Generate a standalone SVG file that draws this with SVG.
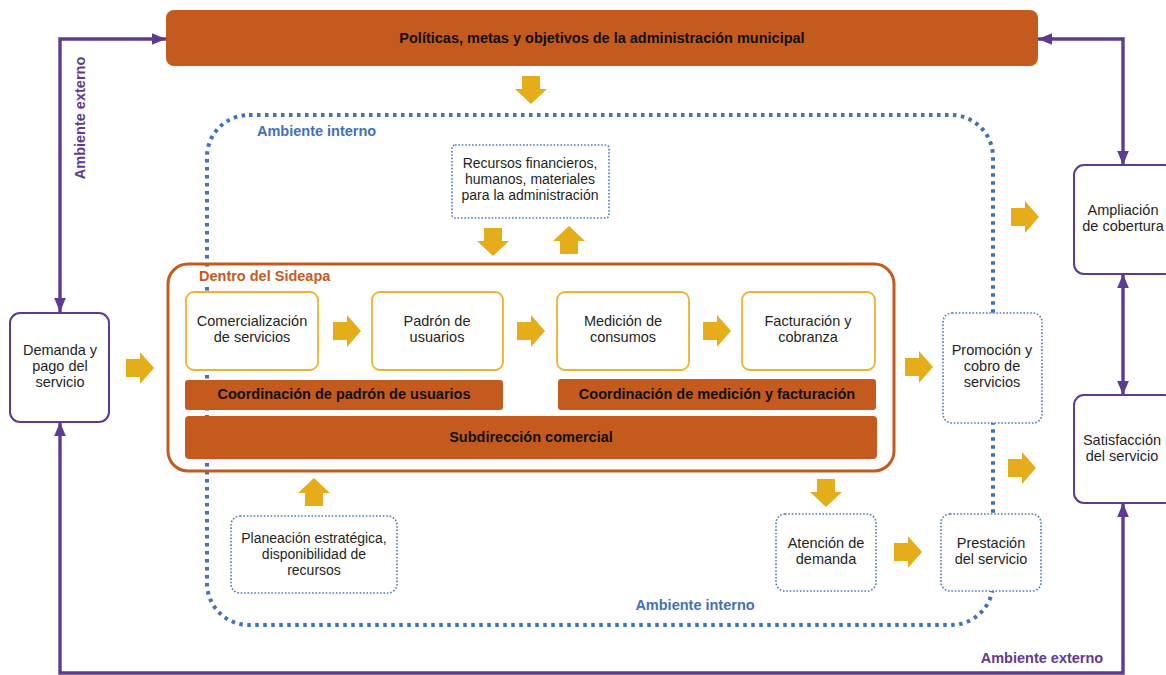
<svg xmlns="http://www.w3.org/2000/svg" xmlns:xlink="http://www.w3.org/1999/xlink" width="1166" height="675" viewBox="0 0 1166 675">
  <style>
    .txt { font-family: "Liberation Sans", Arial, sans-serif; font-size: 14.5px; fill: #1f1f1f; text-anchor: middle; }
    .sm { font-size: 14px; }
    .bold { font-family: "Liberation Sans", Arial, sans-serif; font-size: 14.5px; font-weight: bold; fill: #111; text-anchor: middle; }
    .lbl-blue { font-family: "Liberation Sans", Arial, sans-serif; font-size: 14.5px; font-weight: bold; fill: #3F72B6; }
    .lbl-purple { font-family: "Liberation Sans", Arial, sans-serif; font-size: 14.5px; font-weight: bold; fill: #5F3B8F; }
    .lbl-orange { font-family: "Liberation Sans", Arial, sans-serif; font-size: 14.5px; font-weight: bold; fill: #C55A1F; }
    .bar { fill: #C55A1F; }
    .step { fill: #fff; stroke: #EDB42E; stroke-width: 1.8; }
    .ext { fill: #fff; stroke: #5F3B8F; stroke-width: 2; }
    .dot { fill: #fff; stroke: #4A7CC0; stroke-width: 1.6; stroke-dasharray: 1.6 1.8; }
    .blk { fill: #E6AD1B; }
    .purple { fill: none; stroke: #5F3B8F; stroke-width: 3.4; }
  </style>
  <defs>
    <marker id="ph" viewBox="0 0 12 10" markerUnits="userSpaceOnUse" markerWidth="14" markerHeight="12" refX="12" refY="5" orient="auto-start-reverse">
      <path d="M0,0 L12,5 L0,10 Z" fill="#5F3B8F"/>
    </marker>
    <path id="aR" d="M0,-9 H14 V-16 L28,0 L14,16 V9 H0 Z"/>
    <path id="aD" d="M-9,0 V13 H-16 L0,28 L16,13 H9 V0 Z"/>
    <path id="aU" d="M-9,28 V15 H-16 L0,0 L16,15 H9 V28 Z"/>
  </defs>

  <rect width="1166" height="675" fill="#fff"/>

  <!-- internal environment boundary -->
  <g id="ambiente-interno">
    <rect x="207" y="115" width="786" height="510" rx="42" fill="none" stroke="#3F72B6" stroke-width="4" stroke-dasharray="3.5 4.5"/>
    <text class="lbl-blue" x="257" y="136">Ambiente interno</text>
    <text class="lbl-blue" x="695" y="610" text-anchor="middle">Ambiente interno</text>
  </g>

  <!-- external environment connectors -->
  <g id="connectors">
    <path class="purple" d="M60,312 V39 H166" marker-start="url(#ph)" marker-end="url(#ph)"/>
    <path class="purple" d="M1038,39 H1123 V165" marker-start="url(#ph)" marker-end="url(#ph)"/>
    <path class="purple" d="M1123,274 V395" marker-start="url(#ph)" marker-end="url(#ph)"/>
    <path class="purple" d="M60,422 V673 H1123 V503" marker-start="url(#ph)" marker-end="url(#ph)"/>
    <text class="lbl-purple" transform="translate(85,118) rotate(-90)" text-anchor="middle">Ambiente externo</text>
    <text class="lbl-purple" x="1042" y="663" text-anchor="middle">Ambiente externo</text>

    <!-- block arrows -->
    <use xlink:href="#aD" class="blk" x="531" y="76"/>
    <use xlink:href="#aD" class="blk" x="493" y="228"/>
    <use xlink:href="#aU" class="blk" x="569" y="226"/>
    <use xlink:href="#aR" class="blk" x="126" y="368"/>
    <use xlink:href="#aR" class="blk" x="333" y="331"/>
    <use xlink:href="#aR" class="blk" x="517" y="331"/>
    <use xlink:href="#aR" class="blk" x="703" y="331"/>
    <use xlink:href="#aR" class="blk" x="905" y="367"/>
    <use xlink:href="#aR" class="blk" x="1011" y="217"/>
    <use xlink:href="#aR" class="blk" x="1008" y="468"/>
    <use xlink:href="#aD" class="blk" x="826" y="479"/>
    <use xlink:href="#aR" class="blk" x="894" y="552"/>
    <use xlink:href="#aU" class="blk" x="314" y="478"/>
  </g>

  <g id="politicas">
    <rect class="bar" x="166" y="10" width="872" height="56" rx="8"/>
    <text class="bold" x="602" y="43">Políticas, metas y objetivos de la administración municipal</text>
  </g>

  <g id="recursos">
    <rect class="dot" x="452" y="145" width="157" height="73" rx="3"/>
    <text class="txt sm" x="530" y="168">Recursos financieros,</text>
    <text class="txt sm" x="530" y="184">humanos, materiales</text>
    <text class="txt sm" x="530" y="200">para la administración</text>
  </g>

  <g id="sideapa">
    <rect x="168" y="264" width="726" height="207" rx="20" fill="none" stroke="#C55A1F" stroke-width="3"/>
    <rect x="196" y="268" width="138" height="18" fill="#fff"/>
    <text class="lbl-orange" x="199" y="281">Dentro del Sideapa</text>
  </g>

  <g id="comercializacion">
    <rect class="step" x="186" y="292" width="132" height="78" rx="8"/>
    <text class="txt" x="252" y="326">Comercialización</text>
    <text class="txt" x="252" y="342">de servicios</text>
  </g>
  <g id="padron">
    <rect class="step" x="372" y="292" width="131" height="78" rx="8"/>
    <text class="txt" x="437" y="326">Padrón de</text>
    <text class="txt" x="437" y="342">usuarios</text>
  </g>
  <g id="medicion">
    <rect class="step" x="557" y="292" width="132" height="78" rx="8"/>
    <text class="txt" x="623" y="326">Medición de</text>
    <text class="txt" x="623" y="342">consumos</text>
  </g>
  <g id="facturacion">
    <rect class="step" x="742" y="292" width="133" height="78" rx="8"/>
    <text class="txt" x="808" y="326">Facturación y</text>
    <text class="txt" x="808" y="342">cobranza</text>
  </g>

  <g id="coord-padron">
    <rect class="bar" x="185" y="380" width="318" height="30" rx="3"/>
    <text class="bold" x="344" y="399">Coordinación de padrón de usuarios</text>
  </g>
  <g id="coord-medicion">
    <rect class="bar" x="558" y="379" width="318" height="31" rx="3"/>
    <text class="bold" x="717" y="399">Coordinación de medición y facturación</text>
  </g>
  <g id="subdireccion">
    <rect class="bar" x="185" y="416" width="692" height="43" rx="4"/>
    <text class="bold" x="531" y="442">Subdirección comercial</text>
  </g>

  <g id="demanda">
    <rect class="ext" x="10" y="313" width="99" height="109" rx="10"/>
    <text class="txt" x="60" y="355">Demanda y</text>
    <text class="txt" x="60" y="371">pago del</text>
    <text class="txt" x="60" y="387">servicio</text>
  </g>

  <g id="promocion">
    <rect class="dot" x="943" y="313" width="99" height="110" rx="9"/>
    <text class="txt" x="992" y="355">Promoción y</text>
    <text class="txt" x="992" y="371">cobro de</text>
    <text class="txt" x="992" y="387">servicios</text>
  </g>

  <g id="ampliacion">
    <rect class="ext" x="1074" y="165" width="100" height="109" rx="10"/>
    <text class="txt" x="1123" y="215">Ampliación</text>
    <text class="txt" x="1123" y="231">de cobertura</text>
  </g>

  <g id="satisfaccion">
    <rect class="ext" x="1074" y="395" width="100" height="108" rx="10"/>
    <text class="txt" x="1122" y="445">Satisfacción</text>
    <text class="txt" x="1122" y="461">del servicio</text>
  </g>

  <g id="planeacion">
    <rect class="dot" x="231" y="516" width="166" height="77" rx="9"/>
    <text class="txt sm" x="314" y="543">Planeación estratégica,</text>
    <text class="txt sm" x="314" y="559">disponibilidad de</text>
    <text class="txt sm" x="314" y="575">recursos</text>
  </g>

  <g id="atencion">
    <rect class="dot" x="776" y="514" width="100" height="77" rx="9"/>
    <text class="txt" x="826" y="548">Atención de</text>
    <text class="txt" x="826" y="564">demanda</text>
  </g>

  <g id="prestacion">
    <rect class="dot" x="941" y="514" width="100" height="77" rx="9"/>
    <text class="txt" x="991" y="548">Prestación</text>
    <text class="txt" x="991" y="564">del servicio</text>
  </g>
</svg>
